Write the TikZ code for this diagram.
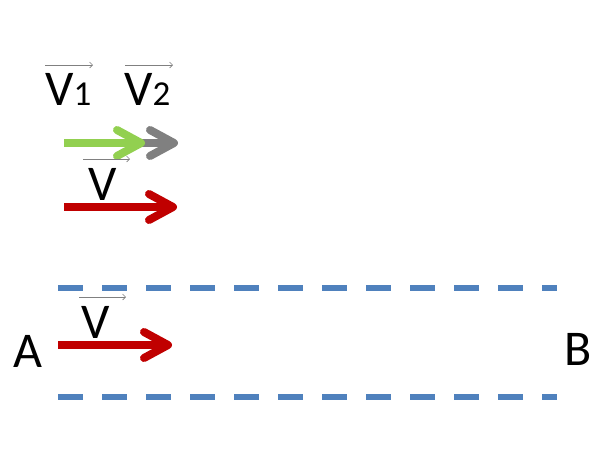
\documentclass[tikz,border=0pt]{standalone}
\usepackage{fontspec}
\setmainfont{Carlito}
\usetikzlibrary{arrows.meta}
\definecolor{arrowred}{RGB}{192,0,0}
\definecolor{arrowgreen}{RGB}{146,208,80}
\definecolor{arrowgray}{RGB}{128,128,128}
\definecolor{laneblue}{RGB}{79,129,189}
\tikzset{
  bigarrow/.style={line width=8pt,-{Straight Barb[length=24pt,width=26pt,round]}},
  vecbar/.style={line width=.6pt,arrowgray,-{Straight Barb[length=3pt,width=6pt]}},
  lane/.style={line width=6pt,laneblue,dash pattern=on 25pt off 19pt},
  lbl/.style={inner sep=0pt,anchor=base west,font=\fontsize{50}{50}\selectfont}
}
\begin{document}
\begin{tikzpicture}[x=1pt,y=-1pt]
  \useasboundingbox (0,0) rectangle (603,453);
  % velocity labels
  \node[lbl] (V1) at (45,105) {V{\fontsize{35}{35}\selectfont 1}};
  \node[lbl] (V2) at (124,105) {V{\fontsize{35}{35}\selectfont 2}};
  \coordinate (b1s) at (45,65);  \coordinate (b1e) at (93,65);
  \coordinate (b2s) at (125,65); \coordinate (b2e) at (173,65);
  \draw[vecbar] (b1s) -- (b1e);
  \draw[vecbar] (b2s) -- (b2e);
  % sum of the two
  \coordinate (g0) at (115,143); \coordinate (g1) at (178,143);
  \coordinate (h0) at (64,143);  \coordinate (h1) at (145,143);
  \draw[bigarrow,arrowgray] (g0) -- (g1);
  \draw[bigarrow,arrowgreen] (h0) -- (h1);
  \node[lbl] (Vtop) at (88,200) {V};
  \coordinate (b3s) at (83,159); \coordinate (b3e) at (130,159);
  \draw[vecbar] (b3s) -- (b3e);
  \coordinate (r0) at (64,207); \coordinate (r1) at (177,207);
  \draw[bigarrow,arrowred] (r0) -- (r1);
  % the lane from A to B
  \coordinate (t0) at (58,288);  \coordinate (t1) at (557,288);
  \coordinate (u0) at (58,397);  \coordinate (u1) at (557,397);
  \draw[lane] (t0) -- (t1);
  \draw[lane] (u0) -- (u1);
  \node[lbl] (A) at (13,367) {A};
  \node[lbl] (B) at (564,365) {B};
  \node[lbl] (Vlow) at (81,338) {V};
  \coordinate (b4s) at (79,297); \coordinate (b4e) at (126,297);
  \draw[vecbar] (b4s) -- (b4e);
  \coordinate (s0) at (58,345); \coordinate (s1) at (172,345);
  \draw[bigarrow,arrowred] (s0) -- (s1);
\end{tikzpicture}
\end{document}
